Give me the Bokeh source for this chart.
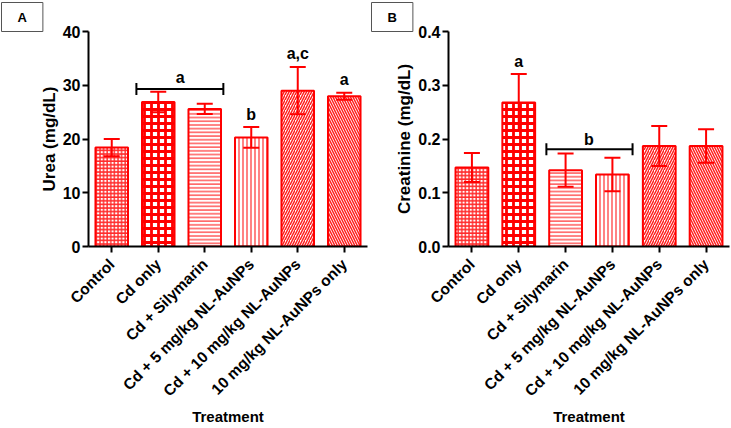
from math import pi
from bokeh.plotting import figure
from bokeh.models import (Range1d, FixedTicker, Whisker, TeeHead, ColumnDataSource,
                          Title, NumeralTickFormatter)
from bokeh.layouts import row
from bokeh.core.properties import value
from bokeh.embed import file_html
from bokeh.resources import INLINE

# ---------------- data ----------------
categories = ["Control", "Cd only", "Cd + Silymarin", "Cd + 5 mg/kg NL-AuNPs",
              "Cd + 10 mg/kg NL-AuNPs", "10 mg/kg NL-AuNPs only"]
urea_mean = [18.4, 26.9, 25.6, 20.3, 29.0, 27.95]
urea_sd = [1.6, 1.9, 0.95, 1.95, 4.4, 0.65]
creat_mean = [0.147, 0.268, 0.142, 0.134, 0.187, 0.187]
creat_sd = [0.027, 0.053, 0.031, 0.031, 0.037, 0.031]

urea_ticks = [0, 10, 20, 30, 40]
creat_ticks = [0.0, 0.1, 0.2, 0.3, 0.4]

# significance annotations
urea_bracket = dict(start=[0.53], end=[2.4], y=[29.3])
urea_letters = dict(x=[1.47, 3.0, 4.0, 5.0], y=[29.9, 22.9, 34.3, 29.5], text=["a", "b", "a,c", "a"])
creat_bracket = dict(start=[1.59], end=[3.43], y=[0.181])
creat_letters = dict(x=[1.0, 2.5], y=[0.329, 0.184], text=["a", "b"])

FONT = "Liberation Sans"
RED = "#ff0000"


def styles():
    return [
        dict(hatch_pattern="+", hatch_color="#ff2a2a", hatch_scale=3.6, hatch_weight=1.4),
        dict(hatch_pattern="+", hatch_color=RED, hatch_scale=7.0, hatch_weight=2.8),
        dict(hatch_pattern="-", hatch_color="#ff4040", hatch_scale=3.7, hatch_weight=1.3),
        dict(hatch_pattern="|", hatch_color="#ff4040", hatch_scale=4.0, hatch_weight=1.3),
        dict(hatch_pattern="/", hatch_color="#ff2020", hatch_scale=5.0, hatch_weight=1.5),
        dict(hatch_pattern="\\", hatch_color="#ff2020", hatch_scale=5.0, hatch_weight=1.5),
    ]


def panel(means, sds, ticks, ymax, ylabel, bracket, letters, letter, width,
          border_left, box_offset, fmt=None):
    p = figure(width=width, height=428, output_backend="svg", toolbar_location=None,
               x_range=Range1d(-0.5, 5.5), y_range=Range1d(0, ymax),
               min_border_left=border_left, min_border_right=2,
               min_border_top=30, min_border_bottom=182, title=None)
    p.outline_line_color = None
    p.grid.visible = False
    p.background_fill_color = "white"
    p.border_fill_color = "white"

    xs = list(range(len(categories)))
    for i, st in enumerate(styles()):
        p.vbar(x=[xs[i]], top=[means[i]], width=0.7, bottom=0,
               fill_color="white", line_color=RED, line_width=2, **st)

    upper = [m + s for m, s in zip(means, sds)]
    lower = [m - s for m, s in zip(means, sds)]
    src = ColumnDataSource(dict(x=xs, upper=upper, lower=lower))
    w = Whisker(source=src, base="x", upper="upper", lower="lower", level="overlay",
                line_color=RED, line_width=2,
                upper_head=TeeHead(size=16, line_color=RED, line_width=2),
                lower_head=TeeHead(size=16, line_color=RED, line_width=2))
    p.add_layout(w)

    bsrc = ColumnDataSource(bracket)
    b = Whisker(source=bsrc, base="y", upper="end", lower="start", dimension="width",
                level="overlay", line_color="black", line_width=2,
                upper_head=TeeHead(size=12, line_color="black", line_width=2),
                lower_head=TeeHead(size=12, line_color="black", line_width=2))
    p.add_layout(b)

    p.text(x="x", y="y", text="text", source=ColumnDataSource(letters),
           text_font=value(FONT), text_font_style="bold", text_font_size="16px",
           text_color="black", text_align="center", text_baseline="bottom")

    for ax in (p.xaxis[0], p.yaxis[0]):
        ax.axis_line_width = 2
        ax.axis_line_color = "black"
        ax.major_tick_line_width = 2
        ax.major_tick_line_color = "black"
        ax.major_tick_out = 6
        ax.major_tick_in = 0
        ax.minor_tick_line_color = None
        ax.major_label_text_font = FONT
        ax.major_label_text_font_style = "bold"
        ax.major_label_text_color = "black"
        ax.axis_label_text_font = FONT
        ax.axis_label_text_font_style = "bold"
        ax.axis_label_text_color = "black"

    p.yaxis.ticker = FixedTicker(ticks=ticks)
    if fmt:
        p.yaxis.formatter = NumeralTickFormatter(format=fmt)
    p.yaxis.major_label_text_font_size = "16px"
    p.yaxis.axis_label = ylabel
    p.yaxis.axis_label_text_font_size = "17px"
    p.yaxis.axis_label_standoff = 1
    p.yaxis.major_label_standoff = 2

    p.xaxis.ticker = FixedTicker(ticks=xs)
    p.xaxis.major_label_overrides = {i: c for i, c in enumerate(categories)}
    p.xaxis.major_label_orientation = pi / 4
    p.xaxis.major_label_text_font_size = "15.5px"
    p.xaxis.major_label_standoff = 9
    p.xaxis.axis_label = "Treatment"
    p.xaxis.axis_label_text_font_size = "15px"
    p.xaxis.axis_label_standoff = 0

    t = Title(text=letter, align="left", offset=box_offset, standoff=0,
              text_font=FONT, text_font_style="bold", text_font_size="13px",
              text_color="black", border_line_color="#555555", border_line_width=1,
              background_fill_color="white", padding=(16, 7))
    p.add_layout(t, "above")
    return p


pA = panel(urea_mean, urea_sd, urea_ticks, 40, "Urea (mg/dL)", urea_bracket,
           urea_letters, "A", 369, 88, 1 - 88)
pB = panel(creat_mean, creat_sd, creat_ticks, 0.4, "Creatinine (mg/dL)", creat_bracket,
           creat_letters, "B", 362, 79, 371 - 448, fmt="0.0")

layout = row(pA, pB)
open("out.html", "w").write(file_html(layout, INLINE))
